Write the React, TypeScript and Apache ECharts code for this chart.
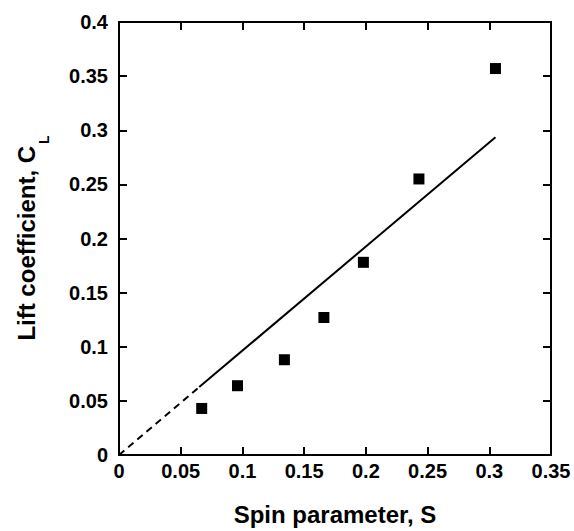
import React, { useEffect, useRef } from "react";
import * as echarts from "echarts";

const spinParameter = [0.067, 0.096, 0.134, 0.166, 0.198, 0.243, 0.305];
const liftCoefficient = [0.043, 0.064, 0.088, 0.127, 0.178, 0.255, 0.357];
const fitSolidS = [0.065, 0.305];
const fitSolidCL = [0.0628, 0.2935];
const fitDashedS = [0.0, 0.065];
const fitDashedCL = [0.0, 0.0628];
const xTitle = "Spin parameter, S";
const yTitleMain = "Lift coefficient, C";
const yTitleSub = "L";

const FONT = "'Liberation Sans', Arial, Helvetica, sans-serif";

export default function App() {
  const ref = useRef<HTMLDivElement>(null);
  useEffect(() => {
    if (!ref.current) return;
    const chart = echarts.init(ref.current, undefined, { renderer: "svg" });
    const axisLine = { show: true, onZero: false, lineStyle: { color: "#000", width: 2 } };
    const axisTick = { show: true, inside: true, length: 8, lineStyle: { color: "#000", width: 2 } };
    const label = { color: "#000", fontSize: 20, fontWeight: "bold" as const, fontFamily: FONT };
    const zip = (a: number[], b: number[]) => a.map((v, i) => [v, b[i]]);
    chart.setOption({
      animation: false,
      backgroundColor: "#fff",
      grid: { left: 119, right: 23, top: 22, bottom: 76 },
      xAxis: [
        {
          type: "value", min: 0, max: 0.35, interval: 0.05, position: "bottom",
          axisLine, axisTick, splitLine: { show: false },
          axisLabel: { ...label, margin: 6 },
          name: xTitle, nameLocation: "middle", nameGap: 47,
          nameTextStyle: { color: "#000", fontSize: 24, fontWeight: "bold", fontFamily: FONT },
        },
        {
          type: "value", min: 0, max: 0.35, interval: 0.05, position: "top",
          axisLine, axisTick, splitLine: { show: false }, axisLabel: { show: false },
        },
      ],
      yAxis: [
        {
          type: "value", min: 0, max: 0.4, interval: 0.05, position: "left",
          axisLine, axisTick, splitLine: { show: false },
          axisLabel: { ...label, margin: 11 },
        },
        {
          type: "value", min: 0, max: 0.4, interval: 0.05, position: "right",
          axisLine, axisTick, splitLine: { show: false }, axisLabel: { show: false },
        },
      ],
      graphic: [
        {
          type: "text",
          x: 26,
          y: 238,
          rotation: Math.PI / 2,
          style: {
            text: `{a|${yTitleMain}}{b|${yTitleSub}}`,
            align: "center",
            verticalAlign: "middle",
            rich: {
              a: { fontSize: 24, fontWeight: "bold", fontFamily: FONT, fill: "#000" },
              b: { fontSize: 14, fontWeight: "bold", fontFamily: FONT, fill: "#000", padding: [36, 0, 0, 2] },
            },
          },
        },
      ],
      series: [
        {
          type: "line", data: zip(fitDashedS, fitDashedCL), showSymbol: false, symbol: "none",
          lineStyle: { color: "#000", width: 2, type: [7, 5] },
        },
        {
          type: "line", data: zip(fitSolidS, fitSolidCL), showSymbol: false, symbol: "none",
          lineStyle: { color: "#000", width: 2 },
        },
        {
          type: "scatter", data: zip(spinParameter, liftCoefficient), symbol: "rect", symbolSize: 11,
          itemStyle: { color: "#000", opacity: 1 },
        },
      ],
    });
    return () => chart.dispose();
  }, []);
  return <div ref={ref} style={{ position: "fixed", left: 0, top: 0, width: 574, height: 531 }} />;
}
